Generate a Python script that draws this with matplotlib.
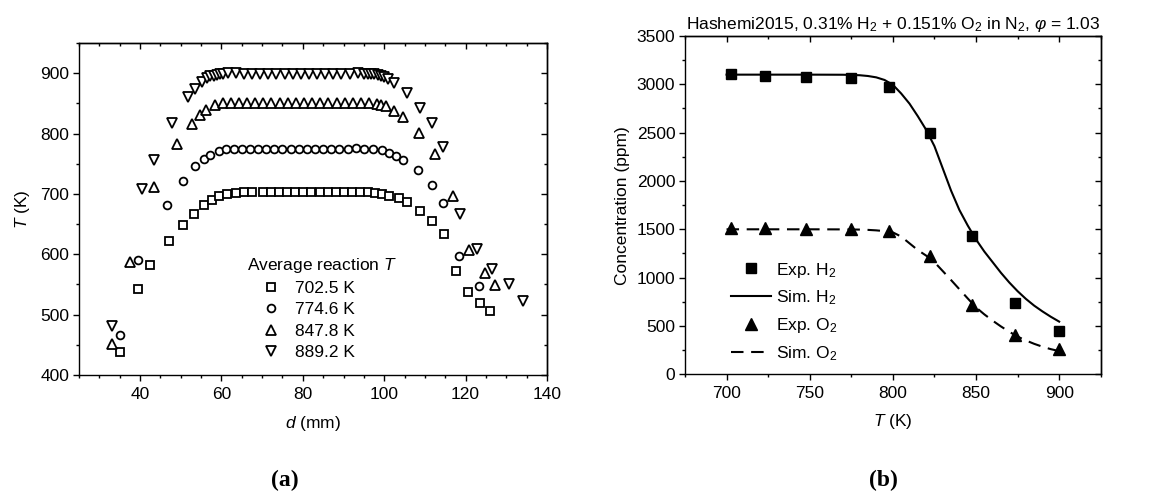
import matplotlib
matplotlib.use("Agg")
import matplotlib.pyplot as plt
from matplotlib.ticker import MultipleLocator

plt.rcParams.update({
    "font.family": ["Liberation Sans", "DejaVu Sans"],
    "font.size": 12.5,
    "mathtext.fontset": "custom",
    "mathtext.rm": "Liberation Sans",
    "mathtext.it": "Liberation Sans:italic",
    "mathtext.bf": "Liberation Sans:bold",
    "axes.linewidth": 1.0,
    "lines.scale_dashes": False,
})

# ---------------- (a) temperature profiles along the reactor ----------------
d_702 = [35.1, 39.6, 42.5, 47.0, 50.6, 53.2, 55.7, 57.6, 59.5, 61.4,
         63.5, 65.5, 67.6,
         70.1, 72.1, 74.1, 76.1, 78.1, 80.1, 82.1, 84.1, 86.1, 88.1, 90.1, 92.1, 94.1, 96.0,
         97.8, 99.5, 101.3, 103.6, 105.6, 108.7, 111.7, 114.7, 117.7, 120.6, 123.6, 126.1]
T_702 = [438.5, 543, 583, 622, 649, 667, 682, 690, 696.5, 700.5,
         702.3, 702.5, 702.4,
         702.5, 702.4, 702.5, 702.6, 702.5, 702.4, 702.5, 702.5, 702.6, 702.5, 702.4, 702.5, 702.5, 702.4,
         702.0, 700.5, 696.5, 693.0, 686.0, 672.0, 655.0, 634.0, 573.0, 538.0, 520.0, 506.0]

d_774 = [35.1, 39.6, 46.6, 50.6, 53.6, 55.7, 57.3, 59.4, 61.0,
         63.0, 65.0, 67.0, 69.0, 71.0, 73.0, 75.0, 77.0, 79.0, 81.0, 83.0, 85.0, 87.0, 89.0, 91.0, 93.0, 95.0,
         97.3, 99.5, 101.3, 102.9, 104.6, 108.3, 111.7, 114.5, 118.5, 123.2]
T_774 = [466, 590, 682, 721, 746, 757, 765, 771, 774,
         774.6, 774.8, 774.6, 774.5, 774.7, 774.6, 774.8, 774.6, 774.5, 774.6, 774.7, 774.6, 774.5, 774.8, 775.2, 775.4, 775.0,
         774.0, 772.0, 767.5, 763.0, 756.0, 739.0, 715.0, 685.0, 597.0, 547.0]

d_847 = [33.1, 37.6, 43.5, 49.1, 52.8, 54.7, 56.2, 58.5, 60.3,
         62.3, 64.3, 66.3, 68.3, 70.3, 72.3, 74.3, 76.3, 78.3, 80.3, 82.3, 84.3, 86.3, 88.3, 90.3, 92.3, 94.3, 96.3,
         98.2, 99.1, 100.4, 102.5, 104.7, 108.6, 112.5, 116.8, 120.8, 124.7, 127.2]
T_847 = [452, 587, 711, 782.6, 815.6, 831, 839, 847, 850.5,
         850.5, 850.3, 850.6, 850.4, 850.2, 850.5, 850.6, 850.3, 850.4, 850.5, 850.3, 850.6, 850.4, 850.5, 850.3, 850.4, 850.6, 850.2,
         848.5, 847.5, 845.5, 837, 827.5, 801, 766, 696, 607, 569, 549]

d_889 = [33.1, 40.5, 43.5, 47.9, 51.7, 53.6, 55.3, 56.5, 57.3, 58.1, 58.9, 59.7, 60.5, 61.5, 63.5,
         65.5, 67.5, 69.5, 71.5, 73.5, 75.5, 77.5, 79.5, 81.5, 83.5, 85.5, 87.5, 89.5, 91.5, 93.5,
         95.0, 96.0, 96.8, 97.6, 98.4, 99.2, 100.0, 100.9, 102.5, 105.5, 108.8, 111.7, 114.4, 118.7, 122.7, 126.6, 130.7, 134.2]
T_889 = [481, 708.6, 756.7, 817, 860, 874, 886, 892, 894.5, 896, 897.5, 898.5, 899, 899.5, 900,
         899.4, 899.2, 898.8, 899.3, 899.0, 899.4, 899.1, 899.3, 898.9, 899.2, 899.4, 899.0, 899.3, 899.1, 899.5,
         899.3, 899.0, 898.6, 898.0, 897.0, 895.5, 893.5, 890.5, 884, 867, 843, 817.5, 778, 666, 609, 575, 550, 523]

profile_labels = ["702.5 K", "774.6 K", "847.8 K", "889.2 K"]

# ---------------- (b) species concentrations vs reactor temperature ----------------
T_exp = [702.5, 723.2, 748.0, 774.6, 797.5, 822.5, 847.8, 873.3, 899.8]
H2_exp = [3108, 3084, 3077, 3067, 2977, 2500, 1431, 738, 451]
O2_exp = [1515, 1510, 1505, 1500, 1480, 1222, 714, 404, 265]

T_sim = [700, 725, 750, 770, 780, 785, 790, 795, 800, 805, 810, 815, 820, 825, 830,
         835, 840, 845, 850, 855, 860, 865, 870, 875, 880, 885, 890, 895, 900]
H2_sim = [3100, 3100, 3100, 3099, 3094, 3086, 3072, 3045, 2995, 2905, 2800, 2670, 2530, 2360, 2130,
          1900, 1700, 1540, 1395, 1270, 1160, 1050, 950, 860, 780, 710, 650, 595, 545]
O2_sim = [1500, 1500, 1500, 1499, 1497, 1494, 1489, 1481, 1468, 1425, 1355, 1285, 1228, 1160, 1068,
          975, 880, 785, 692, 620, 555, 495, 440, 390, 350, 315, 285, 260, 240]


def frame_ticks(ax, xmaj, xmin, ymaj, ymin):
    """Outward ticks on the bottom/left, inward mirrored ticks on top/right."""
    ax.xaxis.set_major_locator(MultipleLocator(xmaj))
    ax.xaxis.set_minor_locator(MultipleLocator(xmin))
    ax.yaxis.set_major_locator(MultipleLocator(ymaj))
    ax.yaxis.set_minor_locator(MultipleLocator(ymin))
    ax.tick_params(which="major", direction="out", length=4.5, width=1.0, pad=2.5)
    ax.tick_params(which="minor", direction="out", length=2.5, width=1.0)
    ax.tick_params(axis="x", which="major", pad=4)
    top = ax.secondary_xaxis("top")
    top.xaxis.set_major_locator(MultipleLocator(xmaj))
    top.xaxis.set_minor_locator(MultipleLocator(xmin))
    top.tick_params(which="major", direction="in", length=4.5, width=1.0, labeltop=False)
    top.tick_params(which="minor", direction="in", length=2.5, width=1.0)
    right = ax.secondary_yaxis("right")
    right.yaxis.set_major_locator(MultipleLocator(ymaj))
    right.yaxis.set_minor_locator(MultipleLocator(ymin))
    right.tick_params(which="major", direction="in", length=4.5, width=1.0, labelright=False)
    right.tick_params(which="minor", direction="in", length=2.5, width=1.0)


fig = plt.figure(figsize=(11.52, 4.97), dpi=100)
ax1 = fig.add_axes([0.0686, 0.2455, 0.4062, 0.668])
ax2 = fig.add_axes([0.5946, 0.2469, 0.3609, 0.6807])

# panel (a)
open_style = dict(linestyle="none", markerfacecolor="white", markeredgecolor="black", markeredgewidth=1.3)
h1, = ax1.plot(d_702, T_702, marker="s", markersize=5.2, **open_style)
h2, = ax1.plot(d_774, T_774, marker="o", markersize=5.6, **open_style)
h3, = ax1.plot(d_847, T_847, marker="^", markersize=7.0, **open_style)
h4, = ax1.plot(d_889, T_889, marker="v", markersize=7.0, **open_style)
ax1.set_xlim(25, 140)
ax1.set_ylim(400, 950)
frame_ticks(ax1, 20, 5, 100, 50)
ax1.set_xlabel(r"$d$ (mm)", labelpad=9)
ax1.set_ylabel(r"$T$ (K)", labelpad=6)
ax1.legend([h1, h2, h3, h4], profile_labels, title=r"Average reaction $T$",
           title_fontsize=12.5, alignment="left", loc="upper left",
           bbox_to_anchor=(0.340, 0.386), frameon=False, borderpad=0,
           handlelength=2.76, handletextpad=0.0, labelspacing=0.36)

# panel (b)
e1, = ax2.plot(T_exp, H2_exp, linestyle="none", marker="s", markersize=7, color="black")
s1, = ax2.plot(T_sim, H2_sim, linestyle="-", linewidth=1.5, color="black")
e2, = ax2.plot(T_exp, O2_exp, linestyle="none", marker="^", markersize=8.5, color="black")
s2, = ax2.plot(T_sim, O2_sim, linestyle=(0, (9, 5.5)), linewidth=1.5, color="black")
ax2.set_xlim(675, 925)
ax2.set_ylim(0, 3500)
frame_ticks(ax2, 50, 25, 500, 250)
ax2.set_xlabel(r"$T$ (K)", labelpad=8)
ax2.set_ylabel("Concentration (ppm)", labelpad=5)
ax2.set_title(r"Hashemi2015, 0.31% H$_2$ + 0.151% O$_2$ in N$_2$, $\varphi$ = 1.03",
              fontsize=12.5, pad=5)
ax2.legend([e1, s1, e2, s2], [r"Exp. H$_2$", r"Sim. H$_2$", r"Exp. O$_2$", r"Sim. O$_2$"],
           loc="upper left", bbox_to_anchor=(0.089, 0.362), frameon=False, borderpad=0,
           handlelength=2.3, handletextpad=0.3, labelspacing=0.52)

fig.text(0.247, 0.034, "(a)", fontfamily="Liberation Serif", fontweight="bold",
         fontsize=17, ha="center", va="center")
fig.text(0.7665, 0.034, "(b)", fontfamily="Liberation Serif", fontweight="bold",
         fontsize=17, ha="center", va="center")

fig.savefig("out.png", dpi=100)
